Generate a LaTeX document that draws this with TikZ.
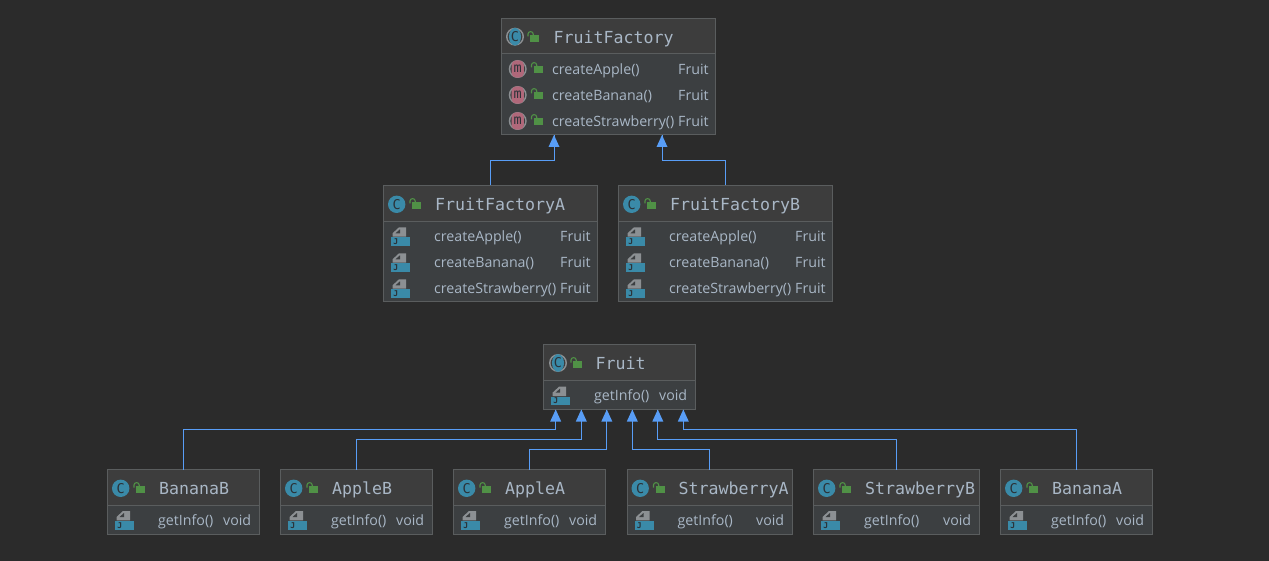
\documentclass[tikz,border=0pt]{standalone}
\usepackage{fontspec}
\usepackage{xcolor}
\setmainfont{Open Sans}
\newfontfamily\titlefont{DejaVu Sans Mono}
\definecolor{umlback}{RGB}{43, 43, 43}
\definecolor{umlhead}{RGB}{61, 61, 61}
\definecolor{umlbody}{RGB}{60, 63, 65}
\definecolor{umledge}{RGB}{90, 93, 94}
\definecolor{umltext}{RGB}{169, 183, 198}
\definecolor{umlarrow}{RGB}{88, 157, 246}
\definecolor{umlteal}{RGB}{58, 138, 168}
\definecolor{umlgreen}{RGB}{80, 145, 70}
\definecolor{umlpink}{RGB}{176, 104, 122}
\definecolor{umlgray}{RGB}{140, 144, 147}
\definecolor{umlink}{RGB}{43, 50, 56}
\tikzset{
    x=1pt, y=-1pt,
    classbox/.style={draw=umledge, line width=1pt, fill=umlbody, inner sep=0pt, outer sep=0pt},
    titletext/.style={anchor=base west, inner sep=0pt, yshift=-0.8pt, text=umltext, font=\titlefont\fontsize{16.6}{18}\selectfont},
    membertext/.style={anchor=base west, inner sep=0pt, yshift=-0.8pt, text=umltext, font=\fontsize{14.2}{17}\selectfont},
    iconletter/.style={inner sep=0pt, text=umlink, font=\titlefont\fontsize{13.5}{13.5}\selectfont},
    inherits/.style={draw=umlarrow, line width=0.8pt},
    inherithead/.style={fill=umlarrow, draw=none},
}
% header band between the box's top edge and the separator
\newcommand{\headband}[2]{
    \fill[umlhead] (#1.north west) rectangle (#1.north east |- 0,#2);
    \draw[umledge, line width=1pt] (#1.west |- 0,#2) -- (#1.east |- 0,#2);
    \draw[umledge, line width=1pt] (#1.north west) rectangle (#1.south east);
}
% open padlock, given by the top left of its body
\newcommand{\lockicon}[2]{
    \fill[umlgreen] (#1,#2) rectangle (#1+9,#2+7);
    \draw[umlgreen, line width=1.1pt] (#1-2,#2+1.5) -- (#1-2,#2-1) arc[start angle=180, end angle=0, x radius=2.6, y radius=-2.4] -- (#1+3.2,#2);
}
% class badge
\newcommand{\classicon}[3]{
    \fill[umlteal] (#1,#2) circle[radius=8.7];
    \node[iconletter] (#3) at (#1,#2) {C};
}
% abstract class badge, gray rim with a band through it
\newcommand{\abstracticon}[3]{
    \fill[umlgray] (#1,#2) circle[radius=9];
    \fill[umlhead] (#1,#2) circle[radius=7.4];
    \fill[umlteal] (#1,#2) ellipse[x radius=6, y radius=8.8];
    \node[iconletter] (#3) at (#1,#2) {C};
}
% abstract method badge
\newcommand{\methodicon}[3]{
    \fill[umlgray] (#1,#2) circle[radius=9];
    \fill[umlbody] (#1,#2) circle[radius=7.4];
    \fill[umlpink, rounded corners=4.5pt] (#1-6.2,#2-8.6) rectangle (#1+6.2,#2+8.6);
    \node[iconletter] (#3) at (#1,#2) {m};
}
% implemented method badge, page above a J strip, given by the strip's top left
\newcommand{\javaicon}[3]{
    \fill[umlgray] (#1+1.5,#2-0.6) -- (#1+1.5,#2-4) -- (#1+8,#2-10) -- (#1+15,#2-10) -- (#1+15,#2-0.6) -- cycle;
    \fill[umlbody] (#1+4.5,#2-4) -- (#1+9,#2-8) -- (#1+9,#2-4) -- cycle;
    \fill[umlteal] (#1,#2) rectangle (#1+19,#2+8.7);
    \node[inner sep=0pt, text=umlink, font=\titlefont\bfseries\fontsize{8}{8}\selectfont] (#3) at (#1+4.7,#2+4.4) {J};
}

\begin{document}
\begin{tikzpicture}
    \useasboundingbox (0,0) rectangle (1269,561);
    \fill[umlback] (0,0) rectangle (1269,561);

    % Factory hierarchy
    \node[classbox, minimum width=214pt, minimum height=116pt] (fruitFactory) at (608,77) {};
    \headband{fruitFactory}{54}
    \abstracticon{515}{36.7}{fruitFactoryIcon}
    \lockicon{530}{35}
    \node[titletext] (fruitFactoryTitle) at (553.5,42.7) {FruitFactory};
    \foreach \rowname/\rowy/\rowtext in {Apple/69/createApple(), Banana/95/createBanana(), Strawberry/121/createStrawberry()} {
        \methodicon{517.7}{\rowy}{iconAbs\rowname}
        \lockicon{533.5}{\rowy-3}
        \node[membertext] (abs\rowname) at (552,\rowy+4.5) {\rowtext};
        \node[membertext] (absType\rowname) at (678,\rowy+4.5) {Fruit};
    }

    \node[classbox, minimum width=214pt, minimum height=116pt] (fruitFactoryA) at (490.5,243.5) {};
    \headband{fruitFactoryA}{221.5}
    \classicon{396.7}{204.3}{fruitFactoryAIcon}
    \lockicon{412}{202}
    \node[titletext] (fruitFactoryATitle) at (435,210) {FruitFactoryA};
    \foreach \rowname/\rowy/\rowtext in {Apple/236/createApple(), Banana/262/createBanana(), Strawberry/288/createStrawberry()} {
        \javaicon{391}{\rowy+1.3}{iconA\rowname}
        \node[membertext] (a\rowname) at (434,\rowy+4.5) {\rowtext};
        \node[membertext] (aType\rowname) at (560,\rowy+4.5) {Fruit};
    }

    \node[classbox, minimum width=214pt, minimum height=116pt] (fruitFactoryB) at (725.5,243.5) {};
    \headband{fruitFactoryB}{221.5}
    \classicon{631.7}{204.3}{fruitFactoryBIcon}
    \lockicon{647}{202}
    \node[titletext] (fruitFactoryBTitle) at (670,210) {FruitFactoryB};
    \foreach \rowname/\rowy/\rowtext in {Apple/236/createApple(), Banana/262/createBanana(), Strawberry/288/createStrawberry()} {
        \javaicon{626}{\rowy+1.3}{iconB\rowname}
        \node[membertext] (b\rowname) at (669,\rowy+4.5) {\rowtext};
        \node[membertext] (bType\rowname) at (795,\rowy+4.5) {Fruit};
    }

    % Product hierarchy
    \node[classbox, minimum width=152pt, minimum height=64.5pt] (fruit) at (619.5,377) {};
    \headband{fruit}{380.5}
    \abstracticon{558}{363}{fruitIcon}
    \lockicon{573}{361}
    \node[titletext] (fruitTitle) at (595.5,369) {Fruit};
    \javaicon{551}{396.7}{fruitJava}
    \node[membertext] (fruitInfo) at (594,399.5) {getInfo()};
    \node[membertext] (fruitType) at (659,399.5) {void};

    \foreach \boxname/\boxx/\boxw/\typex/\boxtitle in {
        bananaB/107.5/152/223/BananaB,
        appleB/280.5/152/396/AppleB,
        appleA/453.5/152/569/AppleA,
        strawberryA/627/165.5/756/StrawberryA,
        strawberryB/813.5/165.5/943/StrawberryB,
        bananaA/1000.5/152/1116/BananaA} {
        \node[classbox, minimum width=\boxw pt, minimum height=64.5pt, anchor=north west] (\boxname) at (\boxx,469.5) {};
        \headband{\boxname}{505}
        \classicon{\boxx+13.2}{488.3}{\boxname Icon}
        \lockicon{\boxx+28.5}{486}
        \node[titletext] (\boxname Title) at (\boxx+51.5,493.5) {\boxtitle};
        \javaicon{\boxx+7.5}{521}{\boxname Java}
        \node[membertext] (\boxname Info) at (\boxx+50.5,524.5) {getInfo()};
        \node[membertext] (\boxname Type) at (\typex,524.5) {void};
    }

    % Inheritance arrows
    \coordinate (factoryLeft) at (554,135);
    \coordinate (factoryRight) at (662,135);
    \draw[inherits] (fruitFactoryA.north -| 490,0) |- (554,160) -- (factoryLeft);
    \draw[inherits] (fruitFactoryB.north) |- (662,160) -- (factoryRight);
    \fill[inherithead] (factoryLeft) -- ++(5.5,12) -- ++(-11,0) -- cycle;
    \fill[inherithead] (factoryRight) -- ++(5.5,12) -- ++(-11,0) -- cycle;

    \foreach \childname/\childx/\midy/\tipx in {
        bananaB/183/429.5/555.7,
        appleB/356/439.5/581.3,
        appleA/529/449.5/606.8,
        strawberryA/709/449.5/632.3,
        strawberryB/896/439.5/657.8,
        bananaA/1076/429.5/683.3} {
        \coordinate (\childname Tip) at (\tipx,409.5);
        \draw[inherits] (\childname.north -| \childx,0) |- (\tipx,\midy) -- (\childname Tip);
        \fill[inherithead] (\childname Tip) -- ++(5.5,12) -- ++(-11,0) -- cycle;
    }
\end{tikzpicture}
\end{document}
